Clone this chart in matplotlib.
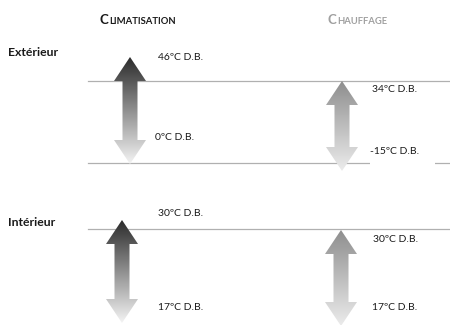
import numpy as np
import matplotlib
matplotlib.use("Agg")
import matplotlib.pyplot as plt
from matplotlib.patches import Polygon, Rectangle

plt.rcParams['font.family'] = ['Lato', 'DejaVu Sans']

# data
modes = ['Climatisation', 'Chauffage']
zones = ['Extérieur', 'Intérieur']
ext_max = [46, 34]
ext_min = [0, -15]
int_max = [30, 30]
int_min = [17, 17]

fig = plt.figure(figsize=(4.5, 3.25), dpi=100)
ax = fig.add_axes([0, 0, 1, 1])
ax.set_xlim(0, 450)
ax.set_ylim(325, 0)
ax.axis('off')

# layout (pixel coords)
line_y = [81, 163, 229]
for y in line_y:
    ax.plot([88, 450], [y, y], color='#b0b0b0', lw=0.9, zorder=1)

# arrows: (cx, top, bottom) per zone / mode
arrow_pos = {
    ('Extérieur', 0): (130, 57, 164),
    ('Extérieur', 1): (342, 81, 171),
    ('Intérieur', 0): (122, 220, 323),
    ('Intérieur', 1): (341, 230, 326),
}
arrow_cols = [('#2b2b2b', '#f4f4f4'), ('#8e8e8e', '#ececec')]


def grad_arrow(cx, top, bot, c_top, c_bot, hw=16, sw=7.5, hl=24):
    verts = [(cx, top), (cx + hw, top + hl), (cx + sw, top + hl),
             (cx + sw, bot - hl), (cx + hw, bot - hl), (cx, bot),
             (cx - hw, bot - hl), (cx - sw, bot - hl), (cx - sw, top + hl),
             (cx - hw, top + hl)]
    poly = Polygon(verts, closed=True, facecolor='none', edgecolor='none')
    ax.add_patch(poly)
    c1 = np.array(matplotlib.colors.to_rgb(c_top))
    c2 = np.array(matplotlib.colors.to_rgb(c_bot))
    t = np.linspace(0, 1, 200)[:, None]
    img = (c1 * (1 - t) + c2 * t)[:, None, :]
    im = ax.imshow(img, extent=[cx - hw, cx + hw, bot, top], aspect='auto',
                   interpolation='bilinear', zorder=2)
    im.set_clip_path(poly)


for zi, zone in enumerate(zones):
    for mi in range(len(modes)):
        cx, top, bot = arrow_pos[(zone, mi)]
        grad_arrow(cx, top, bot, *arrow_cols[mi])

ax.set_xlim(0, 450)
ax.set_ylim(325, 0)

lab_kw = dict(fontsize=7.5, color='#1a1a1a', va='center', ha='left', zorder=3)

# white box that cuts the middle line under the -15 label
ax.add_patch(Rectangle((370, 140), 65, 25, facecolor='white', edgecolor='none', zorder=2))

# Extérieur labels
ax.text(158, 58, f'{ext_max[0]}ºC D.B.', **lab_kw)
ax.text(155, 137, f'{ext_min[0]}ºC D.B.', **lab_kw)
ax.text(372, 89, f'{ext_max[1]}ºC D.B.', **lab_kw)
ax.text(370, 151, f'{ext_min[1]}ºC D.B.', **lab_kw)
# Intérieur labels
ax.text(158, 213, f'{int_max[0]}ºC D.B.', **lab_kw)
ax.text(158, 307, f'{int_min[0]}ºC D.B.', **lab_kw)
ax.text(373, 240, f'{int_max[1]}ºC D.B.', **lab_kw)
ax.text(372, 307, f'{int_min[1]}ºC D.B.', **lab_kw)

# row labels
ax.text(8, 53, zones[0], fontsize=8.8, fontweight='bold', color='#1a1a1a', va='center')
ax.text(8, 223, zones[1], fontsize=8.8, fontweight='bold', color='#1a1a1a', va='center')

# headers in small caps
head_cols = ['#1a1a1a', '#a0a0a0']
head_x = [100, 328]
for i, name in enumerate(modes):
    up = name.upper()
    t = ax.text(head_x[i], 24, up[0], fontsize=9.5, fontweight='bold',
                color=head_cols[i], va='baseline', ha='left')
    ax.annotate(up[1:], xy=(1, 0), xycoords=t, va='bottom', ha='left',
                fontsize=6.8, fontweight='bold', color=head_cols[i])

fig.savefig('out.png', dpi=100)
